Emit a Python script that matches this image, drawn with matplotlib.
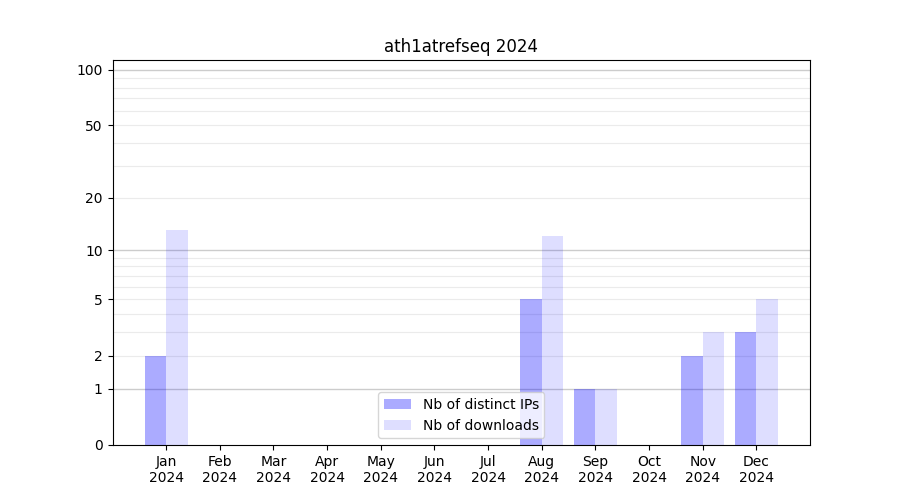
import numpy as np
from matplotlib import pyplot as plt

# Data
months = ["Jan", "Feb", "Mar", "Apr", "May", "Jun", "Jul", "Aug", "Sep", "Oct", "Nov", "Dec"]
year = "2024"
distinct_ips = [2, 0, 0, 0, 0, 0, 0, 5, 1, 0, 2, 3]
downloads = [13, 0, 0, 0, 0, 0, 0, 12, 1, 0, 3, 5]
yticks = [0, 1, 2, 5, 10, 20, 50, 100]


def fwd(y):
    return np.log10(1 + np.clip(y, 0, None))


def inv(y):
    return 10 ** y - 1


fig, ax = plt.subplots(figsize=(9, 5), dpi=100)
x = np.arange(1, len(months) + 1)
ax.bar(x - 0.2, distinct_ips, width=0.4, color="blue", alpha=0.33, label="Nb of distinct IPs")
ax.bar(x + 0.2, downloads, width=0.4, color="blue", alpha=0.13, label="Nb of downloads")

ax.set_yscale("function", functions=(fwd, inv))
ax.set_ylim(0, 113)
ax.set_xlim(0, 13)

# grid lines: darker on decades, light in between
for dec in [1, 10]:
    for k in range(2, 10):
        ax.axhline(k * dec, color="#ebebeb", lw=0.8, zorder=0)
for v in [1, 10, 100]:
    ax.axhline(v, color="#cccccc", lw=1, zorder=0)

ax.set_yticks(yticks)
ax.set_yticklabels([str(v) for v in yticks])
ax.minorticks_off()
ax.set_xticks(x)
ax.set_xticklabels([m + "\n" + year for m in months])
ax.set_title("ath1atrefseq 2024")
ax.legend(loc="lower center")

plt.savefig("out.png")
